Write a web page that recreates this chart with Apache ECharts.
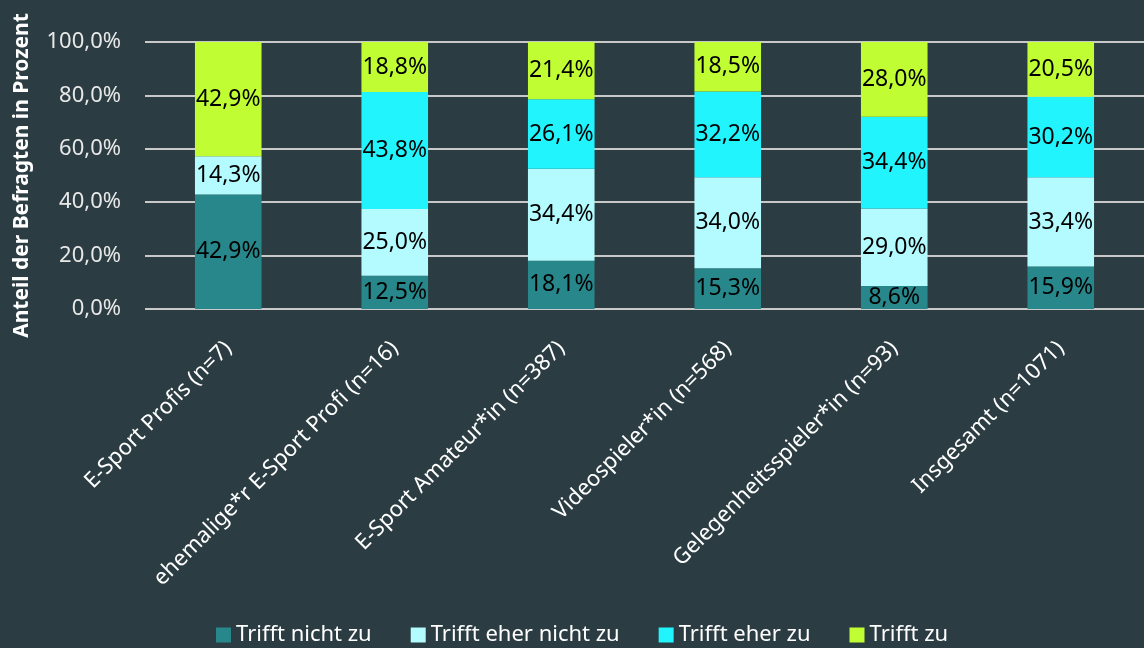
<!DOCTYPE html>
<html>
<head>
<meta charset="utf-8">
<script src="https://cdn.jsdelivr.net/npm/echarts@6/dist/echarts.min.js"></script>
<style>
  html, body { margin: 0; padding: 0; background: #2b3d43; }
  #chart { width: 1144px; height: 648px; }
</style>
</head>
<body>
<div id="chart"></div>
<script>
const categories = [
  'E-Sport Profis (n=7)',
  'ehemalige*r E-Sport Profi (n=16)',
  'E-Sport Amateur*in (n=387)',
  'Videospieler*in (n=568)',
  'Gelegenheitsspieler*in (n=93)',
  'Insgesamt (n=1071)'
]
const trifftNichtZu = [42.9, 12.5, 18.1, 15.3, 8.6, 15.9]
const trifftEherNichtZu = [14.3, 25.0, 34.4, 34.0, 29.0, 33.4]
const trifftEherZu = [0, 43.8, 26.1, 32.2, 34.4, 30.2]
const trifftZu = [42.9, 18.8, 21.4, 18.5, 28.0, 20.5]

const fmt = v => v.toFixed(1).replace('.', ',') + '%'
const font = 'Noto Sans'

function makeSeries(name, data, color) {
  return {
    name,
    type: 'bar',
    stack: 'total',
    data,
    barWidth: '40%',
    itemStyle: { color },
    label: {
      show: true,
      position: 'inside',
      color: '#000',
      fontFamily: font,
      fontSize: 23,
      formatter: p => (p.value > 0 ? fmt(p.value) : '')
    }
  }
}

const chart = echarts.init(document.getElementById('chart'))
chart.setOption({
  backgroundColor: '#2b3d43',
  animation: false,
  grid: { left: 145, right: 0, top: 42, bottom: 339, outerBoundsMode: 'none' },
  legend: {
    bottom: -3,
    left: 211,
    itemWidth: 15,
    itemHeight: 15,
    itemGap: 39,
    icon: 'rect',
    textStyle: { color: '#ffffff', fontFamily: font, fontSize: 22 },
    data: ['Trifft nicht zu', 'Trifft eher nicht zu', 'Trifft eher zu', 'Trifft zu']
  },
  xAxis: {
    type: 'category',
    data: categories,
    axisLine: { show: false },
    axisTick: { show: false },
    axisLabel: {
      rotate: 45,
      margin: 36,
      color: '#ffffff',
      fontFamily: font,
      fontSize: 22,
      interval: 0
    }
  },
  yAxis: {
    type: 'value',
    min: 0,
    max: 100,
    interval: 20,
    name: 'Anteil der Befragten in Prozent',
    nameLocation: 'middle',
    nameGap: 112,
    nameTextStyle: { color: '#ffffff', fontFamily: font, fontSize: 21, fontWeight: 'bold' },
    axisLabel: {
      color: '#e8e8e8',
      fontFamily: font,
      fontSize: 22,
      margin: 24,
      formatter: v => fmt(v)
    },
    splitLine: { lineStyle: { color: '#c9c9c9', width: 2 } }
  },
  series: [
    makeSeries('Trifft nicht zu', trifftNichtZu, '#27878b'),
    makeSeries('Trifft eher nicht zu', trifftEherNichtZu, '#b3fbfe'),
    makeSeries('Trifft eher zu', trifftEherZu, '#22f4fe'),
    makeSeries('Trifft zu', trifftZu, '#c0fe33')
  ]
})
</script>
</body>
</html>
